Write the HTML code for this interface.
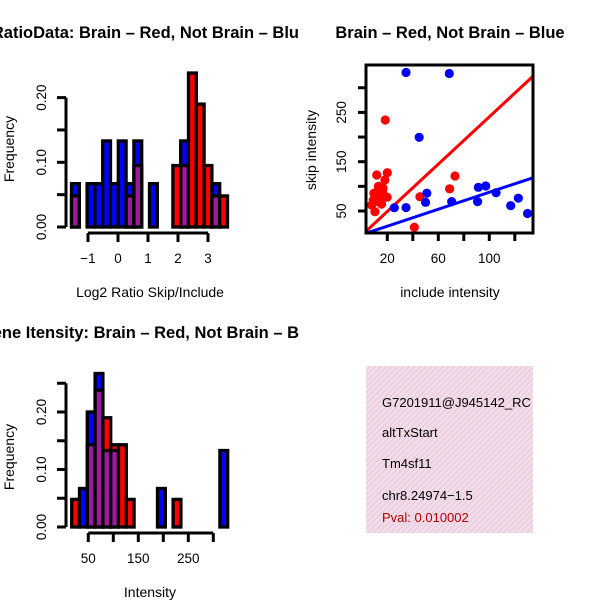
<!DOCTYPE html>
<html><head><meta charset="utf-8">
<style>
html,body{margin:0;padding:0;background:#fff;}
svg{display:block;font-family:"Liberation Sans",sans-serif;}
</style></head>
<body>
<svg id="c" width="600" height="600" viewBox="0 0 600 600">
<defs>
<clipPath id="clipL"><rect x="0" y="0" width="300" height="600"/></clipPath>
<clipPath id="clipBox"><rect x="366" y="65" width="167" height="168"/></clipPath>
<clipPath id="clipTxt"><rect x="366" y="366" width="167" height="167"/></clipPath>
<pattern id="hatch" width="4" height="4" patternUnits="userSpaceOnUse" patternTransform="rotate(45)">
<rect width="4" height="4" fill="#f8d8f2"/><rect width="1.2" height="4" fill="#dcd4c8"/>
</pattern>
</defs>
</svg>
<script>
// ---- Ratio histogram data (bin frequencies) ----
const ratioBlue = [0.067,0,0.067,0.067,0.133,0.067,0.133,0.067,0.133,0,0.067,0,0,0,0.133,0,0,0,0.067,0];
const ratioRed  = [0.048,0,0,0,0,0,0,0.048,0.095,0,0,0,0,0.095,0.095,0.238,0.19,0.095,0.048,0.048];
const ratioBinStart = -1.55;
const ratioBinWidth = 0.26;
const ratioXTicks = [-1,0,1,2,3];
const freqTicks = [0,0.05,0.1,0.15,0.2];
const freqLabels = ["0.00","","0.10","","0.20"];
// ---- Intensity histogram data ----
const intBlue = [0,0.067,0.2,0.267,0.133,0.133,0,0,0,0,0,0.067,0,0,0,0,0,0,0,0.133];
const intRed  = [0.048,0,0.143,0.238,0.19,0.143,0.143,0.048,0,0,0,0,0,0.048,0,0,0,0,0,0];
const intBinStart = 16.8;
const intBinWidth = 15.6;
const intXTicks = [50,100,150,200,250,300];
const intXLabels = ["50","","150","","250",""];
const intFreqTicks = [0,0.05,0.1,0.15,0.2,0.25];
const intFreqLabels = ["0.00","","0.10","","0.20",""];
// ---- Scatter data ----
const blueX = [34.7,68.6,45,25.5,34.7,51,50,70.5,91.4,97.2,90.8,105.3,116.8,122.8,130];
const blueY = [331,329,199.5,56.7,57,86,67.6,69,98,100.7,69,87,60.8,76,45];
const redX = [18.4,73.1,68.9,45.6,41.2,11.7,20,18.1,16.7,9.5,14.2,19.9,7.7,10.3,15.5,12.9,11.1,16.2,13,9,17];
const redY = [234.6,121,95,79,17,123,127.7,113,96,86,79,78,62,48.6,64,69,76,89,100,72,83];
const redFit = [1, 2.4];   // intercept, slope
const blueFit = [2, 0.86];
const scXTicks = [20,40,60,80,100,120];
const scXLabels = ["20","","60","","100",""];
const scYTicks = [50,100,150,200,250,300];
const scYLabels = ["50","","150","","250",""];

const svg = document.getElementById('c');
const NS = 'http://www.w3.org/2000/svg';
function mk(tag, attrs, parent){
  const e = document.createElementNS(NS, tag);
  for (const k in attrs) e.setAttribute(k, attrs[k]);
  (parent||svg).appendChild(e);
  return e;
}
function txt(str, x, y, size, opts, parent){
  const t = mk('text', Object.assign({x:x, y:y, 'font-size':size, 'text-anchor':'middle', fill:'#000'}, opts||{}), parent);
  t.textContent = str;
  return t;
}

function histogram(cfg){
  const g = mk('g', {});
  
  
  const xs = v => cfg.x0 + (v - cfg.xv0) * cfg.xk;
  const ys = v => cfg.y0 - v * cfg.yk;
  const n = cfg.blue.length;
  for (let i = 0; i < n; i++){
    const b = cfg.blue[i], r = cfg.red[i];
    if (b === 0 && r === 0) continue;
    const xa = xs(cfg.start + i*cfg.width), xb = xs(cfg.start + (i+1)*cfg.width);
    const hi = Math.max(b, r), lo = Math.min(b, r);
    const top = mk('rect', {x:xa, y:ys(hi), width:xb-xa, height:ys(0)-ys(hi), fill: b>=r?'#0000ff':'#ff0000', stroke:'#000', 'stroke-width':3.3}, g);
    
    
    if (lo > 0){
      const ov = mk('rect', {x:xa, y:ys(lo), width:xb-xa, height:ys(0)-ys(lo), fill:'#9c1aa0', stroke:'#000', 'stroke-width':3.3}, g);
      
      
    }
  }
  const ya = mk('g', {}, g);
  
  
  const yt = cfg.yTicks;
  mk('line', {x1:66, x2:66, y1:ys(yt[0]), y2:ys(yt[yt.length-1]), stroke:'#000','stroke-width':3}, ya);
  yt.forEach((v,i)=>{
    mk('line', {x1:57, x2:66, y1:ys(v), y2:ys(v), stroke:'#000','stroke-width':3}, ya);
    if (cfg.yLabels[i]) txt(cfg.yLabels[i], 46, ys(v), 13.5, {transform:`rotate(-90 46 ${ys(v)})`}, ya);
  });
  const xa = mk('g', {}, g);
  
  
  const xt = cfg.xTicks;
  mk('line', {x1:xs(xt[0]), x2:xs(xt[xt.length-1]), y1:cfg.axY, y2:cfg.axY, stroke:'#000','stroke-width':3}, xa);
  xt.forEach((v,i)=>{
    mk('line', {x1:xs(v), x2:xs(v), y1:cfg.axY, y2:cfg.axY+9, stroke:'#000','stroke-width':3}, xa);
    if (cfg.xLabels[i]) txt(cfg.xLabels[i], xs(v), cfg.axY+30, 13.5, {}, xa);
  });
  const xl = txt(cfg.xTitle, 150, cfg.xTitleY, 14, {}, g);
  
  
  const yl = txt('Frequency', 14, cfg.yTitleY, 14, {transform:`rotate(-90 14 ${cfg.yTitleY})`}, g);
  
  
  const ti = txt(cfg.title, 299, cfg.titleY, 16.5, {'text-anchor':'end','font-weight':'bold','clip-path':'url(#clipL)'}, g);
  
  
}

histogram({name:'ratio-histogram', blue:ratioBlue, red:ratioRed, start:ratioBinStart, width:ratioBinWidth,
  x0:118, xv0:0, xk:30, y0:227, yk:647, axY:233,
  xTicks:ratioXTicks, xLabels:ratioXTicks.map(v=>v<0?'\u2212'+(-v):String(v)),
  yTicks:freqTicks, yLabels:freqLabels,
  xTitle:'Log2 Ratio Skip/Include', xTitleY:297, yTitleY:149,
  title:'RatioData: Brain \u2013 Red, Not Brain \u2013 Blu', titleY:38});

histogram({name:'intensity-histogram', blue:intBlue, red:intRed, start:intBinStart, width:intBinWidth,
  x0:88.3, xv0:50, xk:0.5, y0:527, yk:575, axY:533,
  xTicks:intXTicks, xLabels:intXLabels,
  yTicks:intFreqTicks, yLabels:intFreqLabels,
  xTitle:'Intensity', xTitleY:597, yTitleY:457,
  title:'Gene Itensity: Brain \u2013 Red, Not Brain \u2013 B', titleY:338});

// ---- Scatter ----
(function(){
  const g = mk('g', {});
  
  
  const sx = v => 361.8 + v*1.275;
  const sy = v => 211 - (v-50)*0.493;
  const xmin = 3.3, xmax = 134.5;
  const lines = mk('g', {'clip-path':'url(#clipBox)'}, g);
  [[redFit,'#ff0000','red-fit-line'],[blueFit,'#0000ff','blue-fit-line']].forEach(([f,c,n])=>{
    const l = mk('line', {x1:sx(xmin), y1:sy(f[0]+f[1]*xmin), x2:sx(xmax), y2:sy(f[0]+f[1]*xmax), stroke:c, 'stroke-width':3}, lines);
    
    
  });
  const pts = mk('g', {'clip-path':'url(#clipBox)'}, g);
  redX.forEach((x,i)=>{
    const p = mk('circle', {cx:sx(x), cy:sy(redY[i]), r:4.6, fill:'#ff0000'}, pts);
    
    
  });
  blueX.forEach((x,i)=>{
    const p = mk('circle', {cx:sx(x), cy:sy(blueY[i]), r:4.6, fill:'#0000ff'}, pts);
    
    
  });
  const box = mk('rect', {x:366, y:65, width:167, height:168, fill:'none', stroke:'#000', 'stroke-width':3}, g);
  
  
  scXTicks.forEach((v,i)=>{
    mk('line', {x1:sx(v), x2:sx(v), y1:233, y2:241, stroke:'#000','stroke-width':3}, g);
    if (scXLabels[i]) txt(scXLabels[i], sx(v), 263, 13.5, {}, g);
  });
  scYTicks.forEach((v,i)=>{
    mk('line', {x1:358, x2:366, y1:sy(v), y2:sy(v), stroke:'#000','stroke-width':3}, g);
    if (scYLabels[i]) txt(scYLabels[i], 346, sy(v), 13.5, {transform:`rotate(-90 346 ${sy(v)})`}, g);
  });
  const xl = txt('include intensity', 450, 297, 14, {}, g);
  
  
  const yl = txt('skip intensity', 316, 150, 14, {transform:'rotate(-90 316 150)'}, g);
  
  
  const ti = txt('Brain \u2013 Red, Not Brain \u2013 Blue', 450, 38, 16.5, {'font-weight':'bold'}, g);
  
  
})();

// ---- Info box ----
(function(){
  const g = mk('g', {});
  
  
  mk('rect', {x:366, y:366, width:167, height:167, fill:'url(#hatch)'}, g);
  const tg = mk('g', {'clip-path':'url(#clipTxt)'}, g);
  const lines = [['G7201911@J945142_RC',407,'#000','event-id'],['altTxStart',437,'#000','event-type'],['Tm4sf11',468,'#000','gene-symbol'],['chr8.24974\u22121.5',500,'#000','genomic-location'],['Pval: 0.010002',522,'#b00000','p-value']];
  lines.forEach(([s,y,c,n])=>{
    const t = txt(s, 382, y, 13, {'text-anchor':'start', fill:c}, tg);
    
    
  });
})();
</script>
</body></html>
